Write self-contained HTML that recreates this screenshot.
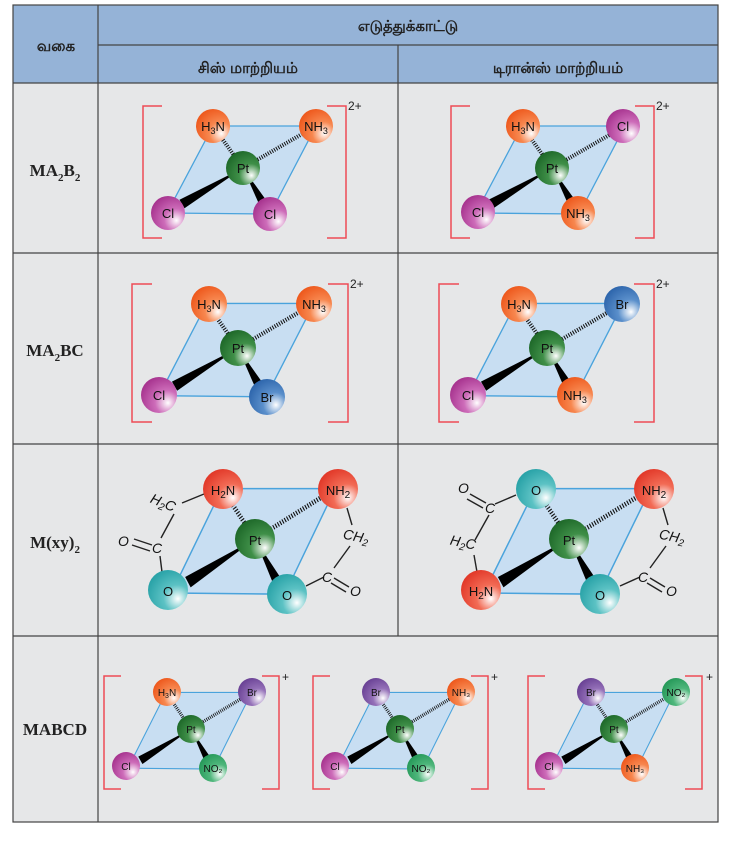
<!DOCTYPE html>
<html><head><meta charset="utf-8"><style>
html,body{margin:0;padding:0;background:#fff;}
svg{display:block}
.t{font-family:"Liberation Sans","Noto Sans CJK SC",sans-serif;}
.s{font-family:"Liberation Sans",sans-serif;font-size:13px;fill:#111;text-anchor:middle;}
.ss{font-family:"Liberation Sans",sans-serif;font-size:10px;fill:#111;text-anchor:middle;}
.b{font-family:"Liberation Serif",serif;font-weight:bold;font-size:17px;fill:#222;text-anchor:middle;}
.h{font-family:"Liberation Sans","Noto Sans CJK SC",sans-serif;font-size:15px;font-weight:bold;fill:#222;text-anchor:middle;}
.r{font-family:"Liberation Sans",sans-serif;font-size:14px;fill:#111;font-style:italic}
</style></head><body>
<svg width="740" height="848" viewBox="0 0 740 848" xmlns="http://www.w3.org/2000/svg">
<defs>
<radialGradient id="go" cx="0.7" cy="0.7" r="0.75" fx="0.75" fy="0.72"><stop offset="0" stop-color="#fff"/><stop offset="0.45" stop-color="#f7874f"/><stop offset="1" stop-color="#ee5a1e"/></radialGradient>
<radialGradient id="gr" cx="0.7" cy="0.7" r="0.75" fx="0.75" fy="0.72"><stop offset="0" stop-color="#fff"/><stop offset="0.45" stop-color="#f26b55"/><stop offset="1" stop-color="#e23a2a"/></radialGradient>
<radialGradient id="gp" cx="0.7" cy="0.7" r="0.75" fx="0.75" fy="0.72"><stop offset="0" stop-color="#fff"/><stop offset="0.45" stop-color="#cd6cb9"/><stop offset="1" stop-color="#a83590"/></radialGradient>
<radialGradient id="gg" cx="0.7" cy="0.7" r="0.75" fx="0.75" fy="0.72"><stop offset="0" stop-color="#fff"/><stop offset="0.45" stop-color="#3f8f48"/><stop offset="1" stop-color="#1f6a2a"/></radialGradient>
<radialGradient id="gb" cx="0.7" cy="0.7" r="0.75" fx="0.75" fy="0.72"><stop offset="0" stop-color="#fff"/><stop offset="0.45" stop-color="#5a8fcb"/><stop offset="1" stop-color="#2f67ad"/></radialGradient>
<radialGradient id="gt" cx="0.7" cy="0.7" r="0.75" fx="0.75" fy="0.72"><stop offset="0" stop-color="#fff"/><stop offset="0.45" stop-color="#5cc2c4"/><stop offset="1" stop-color="#2aa3a8"/></radialGradient>
<radialGradient id="gv" cx="0.7" cy="0.7" r="0.75" fx="0.75" fy="0.72"><stop offset="0" stop-color="#fff"/><stop offset="0.45" stop-color="#9470b8"/><stop offset="1" stop-color="#6b4396"/></radialGradient>
<radialGradient id="gl" cx="0.7" cy="0.7" r="0.75" fx="0.75" fy="0.72"><stop offset="0" stop-color="#fff"/><stop offset="0.45" stop-color="#4fb77c"/><stop offset="1" stop-color="#279a5a"/></radialGradient>
<g id="core">
<polygon points="-30,-42 73,-42 27,46 -76,45" fill="#c8def2" stroke="#4aa3dc" stroke-width="1.3"/>
<line x1="0" y1="0" x2="-30" y2="-42" stroke="#111" stroke-width="4" stroke-dasharray="1 1.4"/>
<line x1="0" y1="0" x2="73" y2="-42" stroke="#111" stroke-width="4" stroke-dasharray="1 1.4"/>
<polygon points="0,0 -58.5,40.3 -63.5,31.7" fill="#000"/>
<polygon points="0,0 23,32 16,36" fill="#000"/>
</g>
</defs>
<rect x="13" y="5" width="705" height="78" fill="#95b3d7"/>
<rect x="13" y="83" width="705" height="739" fill="#e6e7e8"/>
<g stroke="#444" stroke-width="1.2" fill="none">
<rect x="13" y="5" width="705" height="817"/>
<line x1="98" y1="5" x2="98" y2="822"/>
<line x1="98" y1="45" x2="718" y2="45"/>
<line x1="398" y1="45" x2="398" y2="636"/>
<line x1="13" y1="83" x2="718" y2="83"/>
<line x1="13" y1="253" x2="718" y2="253"/>
<line x1="13" y1="444" x2="718" y2="444"/>
<line x1="13" y1="636" x2="718" y2="636"/>
</g>
<text class="h" x="408" y="31">எடுத்துக்காட்டு</text>
<text class="h" x="56" y="51">வகை</text>
<text class="h" x="248" y="73">சிஸ் மாற்றியம்</text>
<text class="h" x="558" y="73">டிரான்ஸ் மாற்றியம்</text>
<text class="b" x="55" y="176">MA<tspan font-size="11" dy="5">2</tspan><tspan dy="-5">B</tspan><tspan font-size="11" dy="5">2</tspan></text>
<text class="b" x="55" y="356">MA<tspan font-size="11" dy="5">2</tspan><tspan dy="-5">BC</tspan></text>
<text class="b" x="55" y="548">M(xy)<tspan font-size="11" dy="5">2</tspan></text>
<text class="b" x="55" y="735">MABCD</text>

<g fill="none" stroke="#ee4b55" stroke-width="1.5">
<polyline points="162,106 143,106 143,238 162,238"/><polyline points="327,106 346,106 346,238 327,238"/>
<polyline points="470,106 451,106 451,238 470,238"/><polyline points="635,106 654,106 654,238 635,238"/>
<polyline points="152,284 132,284 132,422 152,422"/><polyline points="328,284 348,284 348,422 328,422"/>
<polyline points="459,284 439,284 439,422 459,422"/><polyline points="634,284 654,284 654,422 634,422"/>
<polyline points="121,676 104,676 104,789 121,789"/><polyline points="262,676 279,676 279,789 262,789"/>
<polyline points="330,676 313,676 313,789 330,789"/><polyline points="471,676 488,676 488,789 471,789"/>
<polyline points="545,676 528,676 528,789 545,789"/><polyline points="685,676 702,676 702,789 685,789"/>
</g>
<g class="t" font-size="12" fill="#222">
<text x="348" y="110">2+</text><text x="656" y="110">2+</text>
<text x="350" y="288">2+</text><text x="656" y="288">2+</text>
<text x="282" y="681">+</text><text x="491" y="681">+</text><text x="706" y="681">+</text>
</g>

<use href="#core" transform="translate(243,168)"/>
<circle cx="213" cy="126" r="17" fill="url(#go)"/><text class="s" x="213" y="131">H<tspan font-size="9" dy="3">3</tspan><tspan dy="-3">N</tspan></text>
<circle cx="316" cy="126" r="17" fill="url(#go)"/><text class="s" x="316" y="131">NH<tspan font-size="9" dy="3">3</tspan></text>
<circle cx="243" cy="168" r="17" fill="url(#gg)"/><text class="s" x="243" y="173">Pt</text>
<circle cx="168" cy="213" r="17" fill="url(#gp)"/><text class="s" x="168" y="218">Cl</text>
<circle cx="270" cy="214" r="17" fill="url(#gp)"/><text class="s" x="270" y="219">Cl</text>
<use href="#core" transform="translate(552,168)"/>
<circle cx="523" cy="126" r="17" fill="url(#go)"/><text class="s" x="523" y="131">H<tspan font-size="9" dy="3">3</tspan><tspan dy="-3">N</tspan></text>
<circle cx="623" cy="126" r="17" fill="url(#gp)"/><text class="s" x="623" y="131">Cl</text>
<circle cx="552" cy="168" r="17" fill="url(#gg)"/><text class="s" x="552" y="173">Pt</text>
<circle cx="478" cy="212" r="17" fill="url(#gp)"/><text class="s" x="478" y="217">Cl</text>
<circle cx="578" cy="213" r="17" fill="url(#go)"/><text class="s" x="578" y="218">NH<tspan font-size="9" dy="3">3</tspan></text>

<use href="#core" transform="translate(238,348) scale(1.04,1.06)"/>
<circle cx="209" cy="304" r="18" fill="url(#go)"/><text class="s" x="209" y="309">H<tspan font-size="9" dy="3">3</tspan><tspan dy="-3">N</tspan></text>
<circle cx="314" cy="304" r="18" fill="url(#go)"/><text class="s" x="314" y="309">NH<tspan font-size="9" dy="3">3</tspan></text>
<circle cx="238" cy="348" r="18" fill="url(#gg)"/><text class="s" x="238" y="353">Pt</text>
<circle cx="159" cy="395" r="18" fill="url(#gp)"/><text class="s" x="159" y="400">Cl</text>
<circle cx="267" cy="397" r="18" fill="url(#gb)"/><text class="s" x="267" y="402">Br</text>
<use href="#core" transform="translate(547,348) scale(1.04,1.06)"/>
<circle cx="519" cy="304" r="18" fill="url(#go)"/><text class="s" x="519" y="309">H<tspan font-size="9" dy="3">3</tspan><tspan dy="-3">N</tspan></text>
<circle cx="622" cy="304" r="18" fill="url(#gb)"/><text class="s" x="622" y="309">Br</text>
<circle cx="547" cy="348" r="18" fill="url(#gg)"/><text class="s" x="547" y="353">Pt</text>
<circle cx="468" cy="395" r="18" fill="url(#gp)"/><text class="s" x="468" y="400">Cl</text>
<circle cx="575" cy="395" r="18" fill="url(#go)"/><text class="s" x="575" y="400">NH<tspan font-size="9" dy="3">3</tspan></text>

<use href="#core" transform="translate(255,539) scale(1.1,1.2)"/>
<g stroke="#222" stroke-width="1.4" fill="none">
<line x1="204" y1="494" x2="182" y2="503"/>
<line x1="174" y1="514" x2="161" y2="538"/>
<line x1="134" y1="539" x2="152" y2="545"/><line x1="132" y1="545" x2="150" y2="551"/>
<line x1="160" y1="556" x2="162" y2="572"/>
<line x1="347" y1="508" x2="352" y2="525"/>
<line x1="350" y1="546" x2="334" y2="568"/>
<line x1="334" y1="578" x2="349" y2="587"/><line x1="331" y1="583" x2="346" y2="592"/>
<line x1="324" y1="577" x2="306" y2="586"/>
</g>
<text class="r" x="150" y="507" transform="rotate(22 162 503)">H<tspan font-size="10" dy="3">2</tspan><tspan dy="-3">C</tspan></text>
<text class="r" x="152" y="553">C</text>
<text class="r" x="118" y="546">O</text>
<text class="r" x="343" y="541" transform="rotate(12 355 537)">CH<tspan font-size="10" dy="3">2</tspan></text>
<text class="r" x="322" y="582">C</text>
<text class="r" x="350" y="596">O</text>
<circle cx="223" cy="489" r="20" fill="url(#gr)"/><text class="s" font-size="15" x="223" y="495">H<tspan font-size="10" dy="3">2</tspan><tspan dy="-3">N</tspan></text>
<circle cx="338" cy="489" r="20" fill="url(#gr)"/><text class="s" font-size="15" x="338" y="495">NH<tspan font-size="10" dy="3">2</tspan></text>
<circle cx="255" cy="539" r="20" fill="url(#gg)"/><text class="s" font-size="15" x="255" y="545">Pt</text>
<circle cx="168" cy="590" r="20" fill="url(#gt)"/><text class="s" font-size="15" x="168" y="596">O</text>
<circle cx="287" cy="594" r="20" fill="url(#gt)"/><text class="s" font-size="15" x="287" y="600">O</text>
<use href="#core" transform="translate(569,539) scale(1.12,1.2)"/>
<g stroke="#222" stroke-width="1.4" fill="none">
<line x1="470" y1="494" x2="486" y2="503"/><line x1="467" y1="499" x2="483" y2="508"/>
<line x1="495" y1="504" x2="516" y2="495"/>
<line x1="489" y1="515" x2="475" y2="540"/>
<line x1="474" y1="555" x2="477" y2="572"/>
<line x1="663" y1="508" x2="668" y2="525"/>
<line x1="666" y1="546" x2="650" y2="568"/>
<line x1="650" y1="578" x2="665" y2="587"/><line x1="647" y1="583" x2="662" y2="592"/>
<line x1="640" y1="577" x2="620" y2="586"/>
</g>
<text class="r" x="458" y="493">O</text>
<text class="r" x="485" y="513">C</text>
<text class="r" x="450" y="547" transform="rotate(12 462 543)">H<tspan font-size="10" dy="3">2</tspan><tspan dy="-3">C</tspan></text>
<text class="r" x="659" y="541" transform="rotate(12 671 537)">CH<tspan font-size="10" dy="3">2</tspan></text>
<text class="r" x="638" y="582">C</text>
<text class="r" x="666" y="596">O</text>
<circle cx="536" cy="489" r="20" fill="url(#gt)"/><text class="s" font-size="15" x="536" y="495">O</text>
<circle cx="654" cy="489" r="20" fill="url(#gr)"/><text class="s" font-size="15" x="654" y="495">NH<tspan font-size="10" dy="3">2</tspan></text>
<circle cx="569" cy="539" r="20" fill="url(#gg)"/><text class="s" font-size="15" x="569" y="545">Pt</text>
<circle cx="481" cy="590" r="20" fill="url(#gr)"/><text class="s" font-size="15" x="481" y="596">H<tspan font-size="10" dy="3">2</tspan><tspan dy="-3">N</tspan></text>
<circle cx="600" cy="594" r="20" fill="url(#gt)"/><text class="s" font-size="15" x="600" y="600">O</text>

<use href="#core" transform="translate(191,729) scale(0.83,0.87)"/>
<circle cx="167" cy="692" r="14" fill="url(#go)"/><text class="ss" x="167" y="696">H<tspan font-size="7" dy="2">3</tspan><tspan dy="-2">N</tspan></text>
<circle cx="252" cy="692" r="14" fill="url(#gv)"/><text class="ss" x="252" y="696">Br</text>
<circle cx="191" cy="729" r="14" fill="url(#gg)"/><text class="ss" x="191" y="733">Pt</text>
<circle cx="126" cy="766" r="14" fill="url(#gp)"/><text class="ss" x="126" y="770">Cl</text>
<circle cx="213" cy="768" r="14" fill="url(#gl)"/><text class="ss" x="213" y="772">NO₂</text>

<use href="#core" transform="translate(400,729) scale(0.83,0.87)"/>
<circle cx="376" cy="692" r="14" fill="url(#gv)"/><text class="ss" x="376" y="696">Br</text>
<circle cx="461" cy="692" r="14" fill="url(#go)"/><text class="ss" x="461" y="696">NH₃</text>
<circle cx="400" cy="729" r="14" fill="url(#gg)"/><text class="ss" x="400" y="733">Pt</text>
<circle cx="335" cy="766" r="14" fill="url(#gp)"/><text class="ss" x="335" y="770">Cl</text>
<circle cx="421" cy="768" r="14" fill="url(#gl)"/><text class="ss" x="421" y="772">NO₂</text>

<use href="#core" transform="translate(614,729) scale(0.83,0.87)"/>
<circle cx="591" cy="692" r="14" fill="url(#gv)"/><text class="ss" x="591" y="696">Br</text>
<circle cx="676" cy="692" r="14" fill="url(#gl)"/><text class="ss" x="676" y="696">NO₂</text>
<circle cx="614" cy="729" r="14" fill="url(#gg)"/><text class="ss" x="614" y="733">Pt</text>
<circle cx="549" cy="766" r="14" fill="url(#gp)"/><text class="ss" x="549" y="770">Cl</text>
<circle cx="635" cy="768" r="14" fill="url(#go)"/><text class="ss" x="635" y="772">NH₃</text>
</svg>
</body></html>
